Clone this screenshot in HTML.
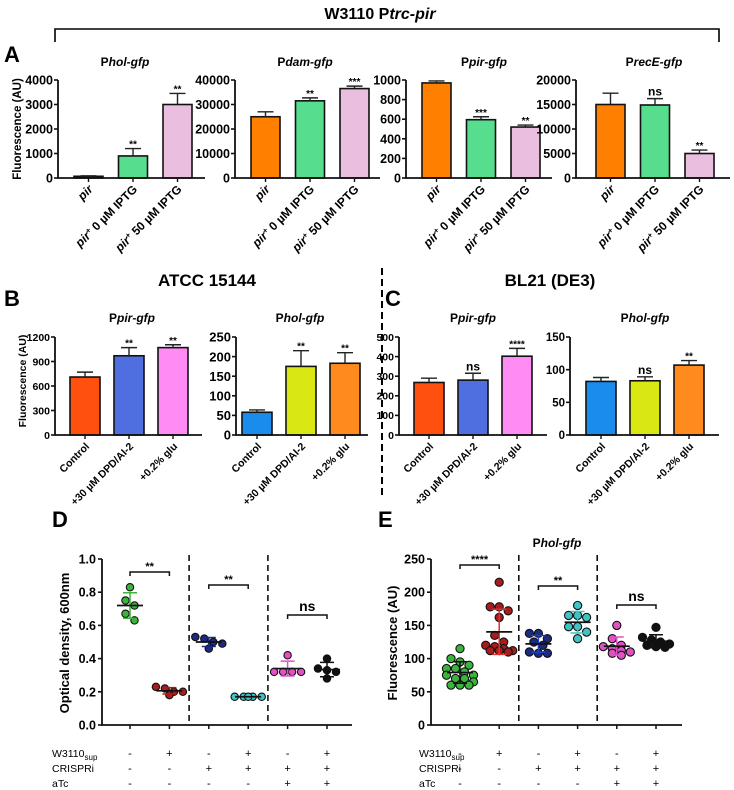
<!DOCTYPE html>
<html><head><meta charset="utf-8">
<style>
html,body{margin:0;padding:0;background:#fff;}
svg{display:block;font-family:"Liberation Sans",Arial,sans-serif;}
</style></head>
<body>
<svg id="fig" width="734" height="790" viewBox="0 0 734 790" xmlns="http://www.w3.org/2000/svg">
  <text x="380" y="19" text-anchor="middle" font-size="16" font-weight="bold">W3110 P<tspan font-style="italic">trc-pir</tspan></text>
  <path d="M55,42 V29 H719 V42" fill="none" stroke="#000" stroke-width="1.6"/>
  <text x="4" y="62" font-size="22" font-weight="bold">A</text>
  <text x="207" y="286" text-anchor="middle" font-size="17" font-weight="bold">ATCC 15144</text>
  <text x="550" y="286" text-anchor="middle" font-size="17" font-weight="bold">BL21 (DE3)</text>
  <text x="4" y="306" font-size="22" font-weight="bold">B</text>
  <text x="385" y="306" font-size="22" font-weight="bold">C</text>
  <line x1="382" y1="268" x2="382" y2="497" stroke="#000" stroke-width="2" stroke-dasharray="7,4"/>
  <text x="52" y="527" font-size="22" font-weight="bold">D</text>
  <text x="378" y="527" font-size="22" font-weight="bold">E</text>
</svg>
<script>
// ---------- data ----------
const aCats = ["pir", "pir+ 0 µM IPTG", "pir+ 50 µM IPTG"];
const aHolVals = [70, 900, 3000];
const aHolErr = [20, 300, 450];
const aHolSig = ["", "**", "**"];
const aHolTicks = [0, 1000, 2000, 3000, 4000];
const aDamVals = [25000, 31500, 36500];
const aDamErr = [2000, 1200, 1000];
const aDamSig = ["", "**", "***"];
const aDamTicks = [0, 10000, 20000, 30000, 40000];
const aPirVals = [970, 595, 520];
const aPirErr = [20, 30, 20];
const aPirSig = ["", "***", "**"];
const aPirTicks = [0, 200, 400, 600, 800, 1000];
const aRecVals = [15000, 14900, 5000];
const aRecErr = [2300, 1300, 700];
const aRecSig = ["", "ns", "**"];
const aRecTicks = [0, 5000, 10000, 15000, 20000];

const bcCats = ["Control", "+30 µM DPD/AI-2", "+0.2% glu"];
const bPirVals = [710, 970, 1070];
const bPirErr = [60, 100, 35];
const bPirSig = ["", "**", "**"];
const bPirTicks = [0, 300, 600, 900, 1200];
const bHolVals = [58, 175, 183];
const bHolErr = [6, 40, 27];
const bHolSig = ["", "**", "**"];
const bHolTicks = [0, 50, 100, 150, 200, 250];
const cPirVals = [268, 280, 402];
const cPirErr = [22, 35, 40];
const cPirSig = ["", "ns", "****"];
const cPirTicks = [0, 100, 200, 300, 400, 500];
const cHolVals = [82, 83, 107];
const cHolErr = [6, 6, 7];
const cHolSig = ["", "ns", "**"];
const cHolTicks = [0, 50, 100, 150];

const dGreen = [0.83, 0.75, 0.72, 0.67, 0.63];
const dRed = [0.23, 0.22, 0.20, 0.20, 0.18];
const dNavy = [0.53, 0.52, 0.50, 0.49, 0.46];
const dCyan = [0.17, 0.17, 0.17, 0.17, 0.17];
const dMagenta = [0.42, 0.32, 0.32, 0.32, 0.32];
const dBlack = [0.40, 0.32, 0.33, 0.34, 0.28];
const dTicks = [0.0, 0.2, 0.4, 0.6, 0.8, 1.0];
const dSig = ["**", "**", "ns"];

const eGreen = [115, 100, 95, 90, 85, 85, 80, 75, 75, 70, 70, 65, 60, 60, 60];
const eRed = [215, 178, 178, 172, 162, 135, 125, 120, 118, 115, 112, 112, 112, 110];
const eNavy = [138, 138, 130, 125, 120, 110, 108, 108];
const eCyan = [180, 165, 165, 162, 148, 148, 140, 130];
const eMagenta = [150, 130, 120, 118, 115, 112, 110, 108, 105];
const eBlack = [147, 132, 128, 125, 122, 120, 118, 117];
const eTicks = [0, 50, 100, 150, 200, 250];
const eSig = ["****", "**", "ns"];

const tableRows = ["W3110", "CRISPRi", "aTc"];
const rowW3110 = ["-", "+", "-", "+", "-", "+"];
const rowCrispri = ["-", "-", "+", "+", "+", "+"];
const rowAtc = ["-", "-", "-", "-", "+", "+"];

// ---------- helpers ----------
const NS = "http://www.w3.org/2000/svg";
const svg = document.getElementById("fig");
function mk(tag, attrs, parent) {
  const e = document.createElementNS(NS, tag);
  for (const k in attrs) e.setAttribute(k, attrs[k]);
  (parent || svg).appendChild(e);
  return e;
}
function linScale(d0, d1, r0, r1) { return v => r0 + (v - d0) / (d1 - d0) * (r1 - r0); }

function fillCatLabel(t, label) {
  if (label.startsWith("pir")) {
    const a = mk("tspan", {"font-style": "italic"}, t); a.textContent = "pir";
    if (label.startsWith("pir+")) {
      const b = mk("tspan", {"font-size": "8", "dy": "-4"}, t); b.textContent = "+";
      const c = mk("tspan", {"dy": "4"}, t); c.textContent = label.slice(4);
    }
  } else t.textContent = label;
}

function barChart(c) {
  const g = mk("g", {});
  
  
  const y = linScale(0, c.ticks[c.ticks.length - 1], c.y0, c.yTop);
  const tt = mk("text", {x: c.titleX, y: c.titleY, "text-anchor": "middle", "font-size": 12, "font-weight": "bold"}, g);
  
  
  const p = mk("tspan", {}, tt); p.textContent = "P";
  const it = mk("tspan", {"font-style": "italic"}, tt); it.textContent = c.title;
  c.vals.forEach((v, i) => {
    const bx = c.ax + c.off + i * c.pitch;
    const r = mk("rect", {x: bx, y: y(v), width: c.bw, height: c.y0 - y(v), fill: c.colors[i], stroke: "#111", "stroke-width": 1.6}, g);
    
    
    const cx = bx + c.bw / 2, top = y(v + c.errs[i]);
    const e = mk("path", {d: `M${cx},${y(v)} V${top} M${cx - 8},${top} H${cx + 8}`, stroke: "#222", "stroke-width": 1.4, fill: "none"}, g);
    
    
    if (c.sig[i]) {
      const s = mk("text", {x: cx, y: top - (c.sig[i] === "ns" ? 3 : 1), "text-anchor": "middle", "font-size": c.sig[i] === "ns" ? 12 : 10, "font-weight": "bold"}, g);
      
      
      s.textContent = c.sig[i];
    }
    mk("line", {x1: cx, y1: c.y0, x2: cx, y2: c.y0 + 4, stroke: "#111", "stroke-width": 1.4}, g);
    const lt = mk("text", {x: 0, y: 0, "text-anchor": "end", "font-size": c.catFs, "font-weight": "bold", transform: `translate(${cx + 5},${c.y0 + 12}) rotate(-45)`}, g);
    
    
    fillCatLabel(lt, c.cats[i]);
  });
  const ax = mk("path", {d: `M${c.ax},${c.yTop} V${c.y0} H${c.axEnd}`, stroke: "#111", "stroke-width": 1.8, fill: "none"}, g);
  
  
  c.ticks.forEach(t => {
    mk("line", {x1: c.ax - 4, y1: y(t), x2: c.ax, y2: y(t), stroke: "#111", "stroke-width": 1.6}, g);
    const tl = mk("text", {x: c.ax - 5, y: y(t) + c.tickFs * 0.36, "text-anchor": "end", "font-size": c.tickFs, "font-weight": "bold"}, g);
    
    
    tl.textContent = t;
  });
  if (c.ylabel) {
    const yl = mk("text", {x: 0, y: 0, "text-anchor": "middle", "font-size": c.ylFs, "font-weight": "bold", transform: `translate(${c.ylX},${c.ylY}) rotate(-90)`}, g);
    
    
    yl.textContent = "Fluorescence (AU)";
  }
}

const aColors = ["#ff8000", "#57dd8e", "#e9bede"];
const base = {cats: aCats, y0: 178, yTop: 80, off: 16, pitch: 44.5, bw: 29, titleY: 66, tickFs: 12.5, catFs: 12};
barChart(Object.assign({}, base, {name: "chart-a-phol", ax: 58, axEnd: 205, title: "hol-gfp", titleX: 125, vals: aHolVals, errs: aHolErr, sig: aHolSig, ticks: aHolTicks, colors: ["#111", aColors[1], aColors[2]], ylabel: true, ylX: 21, ylY: 129, ylFs: 11.5}));
barChart(Object.assign({}, base, {name: "chart-a-pdam", ax: 235, axEnd: 380, title: "dam-gfp", titleX: 305, vals: aDamVals, errs: aDamErr, sig: aDamSig, ticks: aDamTicks, colors: aColors}));
barChart(Object.assign({}, base, {name: "chart-a-ppir", ax: 406, axEnd: 552, title: "pir-gfp", titleX: 484, vals: aPirVals, errs: aPirErr, sig: aPirSig, ticks: aPirTicks, colors: aColors}));
barChart(Object.assign({}, base, {name: "chart-a-prece", ax: 576, axEnd: 730, off: 20, title: "recE-gfp", titleX: 654, vals: aRecVals, errs: aRecErr, sig: aRecSig, ticks: aRecTicks, colors: aColors}));

const bc = {cats: bcCats, y0: 435, yTop: 337, pitch: 44, bw: 30, titleY: 322, catFs: 10.5};
const bColors1 = ["#ff5010", "#4f6ee0", "#ff8cf4"];
const bColors2 = ["#1a8ceb", "#d9e812", "#ff8a1e"];
barChart(Object.assign({}, bc, {name: "chart-b-ppir", ax: 55, axEnd: 202, off: 15, title: "pir-gfp", titleX: 132, vals: bPirVals, errs: bPirErr, sig: bPirSig, ticks: bPirTicks, colors: bColors1, tickFs: 10.5, ylabel: true, ylX: 26, ylY: 381, ylFs: 10.5}));
barChart(Object.assign({}, bc, {name: "chart-b-phol", ax: 236, axEnd: 368, off: 6, title: "hol-gfp", titleX: 300, vals: bHolVals, errs: bHolErr, sig: bHolSig, ticks: bHolTicks, colors: bColors2, tickFs: 13}));
barChart(Object.assign({}, bc, {name: "chart-c-ppir", ax: 399, axEnd: 547, off: 15, title: "pir-gfp", titleX: 473, vals: cPirVals, errs: cPirErr, sig: cPirSig, ticks: cPirTicks, colors: bColors1, tickFs: 10.5}));
barChart(Object.assign({}, bc, {name: "chart-c-phol", ax: 570, axEnd: 719, off: 16, title: "hol-gfp", titleX: 645, vals: cHolVals, errs: cHolErr, sig: cHolSig, ticks: cHolTicks, colors: bColors2, tickFs: 11.5}));

function scatter(c) {
  const g = mk("g", {});
  
  
  const y = linScale(0, c.ticks[c.ticks.length - 1], c.y0, c.yTop);
  const xs = i => c.ax + c.first + i * c.step;
  c.dashes.forEach(k => {
    const dx = (xs(k) + xs(k + 1)) / 2;
    const d = mk("line", {x1: dx, y1: c.yTop - 4, x2: dx, y2: c.y0, stroke: "#111", "stroke-width": 1.6, "stroke-dasharray": "6,4"}, g);
    
    
  });
  c.groups.forEach((vals, i) => {
    const cx = xs(i);
    const mean = vals.reduce((a, b) => a + b, 0) / vals.length;
    const sd = Math.sqrt(vals.reduce((a, b) => a + (b - mean) ** 2, 0) / (vals.length - 1));
    const sorted = vals.slice().sort((a, b) => b - a);
    const rows = [];
    sorted.forEach(v => {
      const py = y(v);
      const last = rows[rows.length - 1];
      if (last && Math.abs(last.y - py) < c.rowGap && last.n < 4) { last.vals.push(v); last.n++; }
      else rows.push({y: py, vals: [v], n: 1});
    });
    rows.forEach(r => r.vals.forEach((v, k) => {
      const px = cx + (k - (r.vals.length - 1) / 2) * c.spread;
      const pt = mk("circle", {cx: px, cy: y(v), r: c.rad, fill: c.colors[i], stroke: "#111", "stroke-width": 1.1}, g);
      
      
    }));
    const sdc = c.sdColors[i];
    const e = mk("path", {d: `M${cx},${y(mean - sd)} V${y(mean + sd)} M${cx - 7},${y(mean + sd)} H${cx + 7} M${cx - 7},${y(mean - sd)} H${cx + 7}`, stroke: sdc, "stroke-width": 1.5, fill: "none"}, g);
    
    
    const m = mk("line", {x1: cx - 13, y1: y(mean), x2: cx + 13, y2: y(mean), stroke: "#111", "stroke-width": 1.7}, g);
    
    
    mk("line", {x1: cx, y1: c.y0, x2: cx, y2: c.y0 + 4, stroke: "#111", "stroke-width": 1.5}, g);
  });
  c.sig.forEach((s, k) => {
    const x1 = xs(2 * k), x2 = xs(2 * k + 1), by = c.sigY[k];
    const b = mk("path", {d: `M${x1},${by + 4} V${by} H${x2} V${by + 4}`, stroke: "#111", "stroke-width": 1.5, fill: "none"}, g);
    
    
    const t = mk("text", {x: (x1 + x2) / 2, y: by - (s === "ns" ? 4 : 2), "text-anchor": "middle", "font-size": s === "ns" ? 14 : 11, "font-weight": "bold"}, g);
    
    
    t.textContent = s;
  });
  const ax = mk("path", {d: `M${c.ax},${c.yTop} V${c.y0} H${c.axEnd}`, stroke: "#111", "stroke-width": 1.8, fill: "none"}, g);
  
  
  c.ticks.forEach(t => {
    mk("line", {x1: c.ax - 4, y1: y(t), x2: c.ax, y2: y(t), stroke: "#111", "stroke-width": 1.6}, g);
    const tl = mk("text", {x: c.ax - 6, y: y(t) + 4.5, "text-anchor": "end", "font-size": 12.5, "font-weight": "bold"}, g);
    
    
    tl.textContent = c.fmt(t);
  });
  const yl = mk("text", {x: 0, y: 0, "text-anchor": "middle", "font-size": 13, "font-weight": "bold", transform: `translate(${c.ylX},${c.ylY}) rotate(-90)`}, g);
  
  
  yl.textContent = c.ylabel;
  if (c.title) {
    const tt = mk("text", {x: c.titleX, y: 547, "text-anchor": "middle", "font-size": 12, "font-weight": "bold"}, g);
    
    
    const p = mk("tspan", {}, tt); p.textContent = "P";
    const it = mk("tspan", {"font-style": "italic"}, tt); it.textContent = c.title;
  }
  const rowYs = [757, 772, 787];
  const rowsData = [rowW3110, rowCrispri, rowAtc];
  tableRows.forEach((name, r) => {
    const t = mk("text", {x: c.tableX, y: rowYs[r], "font-size": 10.5}, g);
    
    
    t.textContent = name;
    if (name === "W3110") { const s = mk("tspan", {"font-size": 8, dy: 3}, t); s.textContent = "sup"; }
    rowsData[r].forEach((sym, i) => {
      const st = mk("text", {x: xs(i), y: rowYs[r], "text-anchor": "middle", "font-size": 11}, g);
      
      
      st.textContent = sym;
    });
  });
}
const sColors = ["#3cb43c", "#a81c1c", "#1c2a80", "#3ec4c4", "#e052c4", "#111"];
scatter({name: "chart-d-od600", ax: 102, axEnd: 352, first: 28, step: 39.4, y0: 725, yTop: 559, ticks: dTicks, fmt: t => t.toFixed(1),
  groups: [dGreen, dRed, dNavy, dCyan, dMagenta, dBlack], colors: sColors, sdColors: ["#3cb43c", "#a81c1c", "#1c2a80", "#3ec4c4", "#e052c4", "#111"],
  dashes: [1, 3], sig: dSig, sigY: [572, 585, 615], ylX: 69, ylY: 643, ylabel: "Optical density, 600nm", tableX: 52, rowGap: 7, spread: 9, rad: 3.7});
scatter({name: "chart-e-phol", ax: 431, axEnd: 682, first: 29, step: 39.2, y0: 725, yTop: 559, ticks: eTicks, fmt: t => String(t),
  groups: [eGreen, eRed, eNavy, eCyan, eMagenta, eBlack], colors: sColors, sdColors: ["#111", "#e03030", "#2040c0", "#3ec4c4", "#e052c4", "#111"],
  dashes: [1, 3], sig: eSig, sigY: [565, 586, 605], ylX: 397, ylY: 643, ylabel: "Fluorescence (AU)", title: "hol-gfp", titleX: 557, tableX: 419, rowGap: 7, spread: 9, rad: 4.1});
</script>
</body></html>
